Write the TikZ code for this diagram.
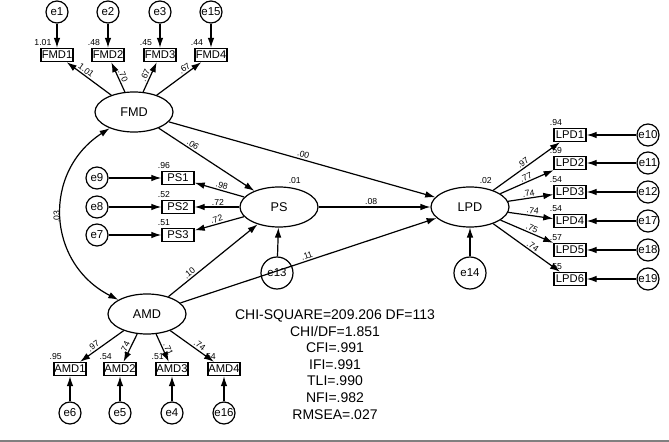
\documentclass[tikz,border=0pt]{standalone}
\usepackage{fontspec}
\setmainfont{Liberation Sans}
\usetikzlibrary{shapes.geometric,arrows.meta}

\begin{document}
\begin{tikzpicture}[x=0.75pt,y=-0.75pt,line width=0.9pt,
  >={Latex[length=7.5pt,width=5pt]},
  lat/.style={draw,ellipse,minimum width=58.5pt,minimum height=30pt,inner sep=0pt,font=\fontsize{9.5}{11}\selectfont},
  obs/.style={draw,line width=1.1pt,minimum width=24pt,minimum height=9.75pt,inner sep=0.5pt,font=\fontsize{8.4}{10}\selectfont},
  err/.style={draw,circle,minimum size=16.5pt,inner sep=0pt,font=\fontsize{8.6}{10}\selectfont},
  bigerr/.style={err,minimum size=24pt},
  coef/.style={font=\fontsize{6.5}{7.5}\selectfont,inner sep=1pt},
  load/.style={coef,sloped,above},
  var/.style={coef,anchor=south,xshift=2pt,yshift=0.5pt}]
\useasboundingbox (0,0) rectangle (669,442);

% latent variables
\node[lat] (FMD) at (134,112) {FMD};
\node[lat] (AMD) at (147,314) {AMD};
\node[lat,label={[coef,label distance=1pt]70:.01}] (PS) at (279,207) {PS};
\node[lat,label={[coef,label distance=1pt]70:.02}] (LPD) at (470,207) {LPD};

% error terms of the latent variables
\node[bigerr] (e13) at (277,273) {e13};
\node[bigerr] (e14) at (470,273) {e14};
\draw[->] (e13) -- (PS);
\draw[->] (e14) -- (LPD);

% FMD indicators
\foreach \i/\x/\r/\e/\l/\p in {1/57/1.01/e1/1.01/0.63, 2/108/.48/e2/.70/0.47, 3/160/.45/e3/.67/0.49, 4/211/.44/e15/.67/0.69}
{
  \node[obs,label={[var]north west:\r}] (FMD\i) at (\x,55) {FMD\i};
  \node[err] (\e) at (\x,12) {\e};
  \draw[->] (\e) -- (FMD\i);
  \draw[->] (FMD) -- node[load,pos=\p] {\l} (FMD\i);
}

% AMD indicators
\foreach \i/\x/\r/\e/\l/\p in {1/70/.95/e6/.97/0.63, 2/120/.54/e5/.74/0.57, 3/172/.51/e4/.71/0.62, 4/224/.54/e16/.74/0.61}
{
  \node[obs,label={[var]north west:\r}] (AMD\i) at (\x,369) {AMD\i};
  \node[err] (\e) at (\x,413) {\e};
  \draw[->] (\e) -- (AMD\i);
  \draw[->] (AMD) -- node[load,pos=\p] {\l} (AMD\i);
}

% PS indicators
\foreach \i/\y/\r/\e/\l/\p in {1/178/.96/e9/.98/0.48, 2/207/.52/e8/.72/0.48, 3/235/.51/e7/.72/0.53}
{
  \node[obs,label={[var]north west:\r}] (PS\i) at (178,\y) {PS\i};
  \node[err] (\e) at (97,\y) {\e};
  \draw[->] (\e) -- (PS\i);
  \draw[->] (PS) -- node[load,pos=\p] {\l} (PS\i);
}

% LPD indicators
\foreach \i/\y/\r/\e/\l/\p in {1/135/.94/e10/.97/0.49, 2/163/.59/e11/.77/0.52, 3/192/.54/e12/.74/0.47, 4/221/.54/e17/.74/0.53, 5/250/.57/e18/.75/0.56, 6/279/.55/e19/.74/0.55}
{
  \node[obs,label={[var]north west:\r}] (LPD\i) at (570,\y) {LPD\i};
  \node[err] (\e) at (648,\y) {\e};
  \draw[->] (\e) -- (LPD\i);
  \draw[->] (LPD) -- node[load,pos=\p] {\l} (LPD\i);
}

% structural paths
\draw[->] (FMD) -- node[load,pos=0.33] {.06} (PS);
\draw[->] (FMD) -- node[load,pos=0.50] {.00} (LPD);
\draw[->] (PS) -- node[load,pos=0.47] {.08} (LPD);
\draw[->] (AMD) -- node[load,pos=0.27] {.10} (PS);
\draw[->] (AMD) -- node[load,pos=0.50] {.11} (LPD);

% covariance
\draw[<->] (FMD) to[bend right=60,looseness=1.2] node[coef,midway,rotate=90,anchor=south] {.03} (AMD);

% fit indices
\node[font=\fontsize{10.5}{12.45}\selectfont,align=center] (fit) at (335,364.5)
  {CHI-SQUARE=209.206 DF=113\\CHI/DF=1.851\\CFI=.991\\IFI=.991\\TLI=.990\\NFI=.982\\RMSEA=.027};

\draw[gray,line width=1.5pt] (0,441) -- (669,441);
\end{tikzpicture}
\end{document}
